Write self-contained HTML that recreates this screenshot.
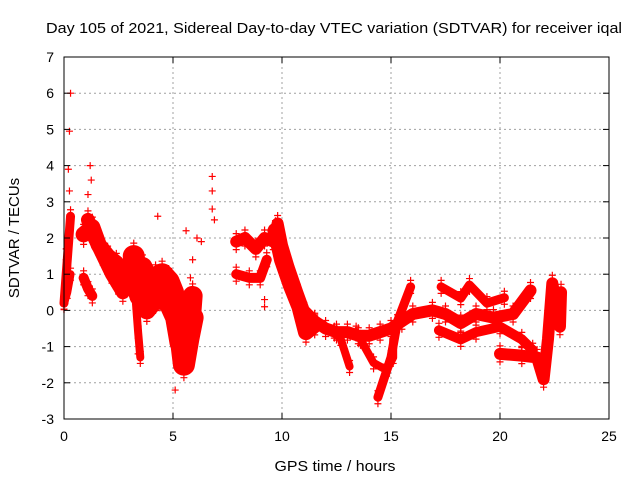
<!DOCTYPE html>
<html><head><meta charset="utf-8"><style>
body{margin:0;background:#fff}
svg{display:block;font-family:"Liberation Sans",sans-serif}
</style></head><body>
<svg id="chart" width="640" height="480" viewBox="0 0 640 480">
<rect width="640" height="480" fill="#fff"/>
<text x="334" y="33" font-size="15" text-anchor="middle" textLength="576" lengthAdjust="spacingAndGlyphs">Day 105 of 2021, Sidereal Day-to-day VTEC variation (SDTVAR) for receiver iqal</text>
<g id="grid"></g>
<g id="data"></g>
<rect x="64" y="57" width="545" height="362" fill="none" stroke="#000" stroke-width="1"/>
<g id="ticks"></g>
<text x="335" y="471" font-size="15" text-anchor="middle" textLength="121" lengthAdjust="spacingAndGlyphs">GPS time / hours</text>
<text transform="translate(19,238) rotate(-90)" font-size="15" text-anchor="middle">SDTVAR / TECUs</text>
</svg>
<script>
const xTicks=[0,5,10,15,20,25];
const yTicks=[-3,-2,-1,0,1,2,3,4,5,6,7];
// band traces: [hours, TECU]
const traceA=[[0,0.2],[0.1,1.0],[0.2,1.8],[0.3,2.6]];
const traceA2=[[0,0.2],[0.15,0.5],[0.3,1.0]];
const traceB=[[0.9,2.1],[1.3,2.3],[1.6,1.8],[2.0,1.5],[2.4,1.3],[2.8,1.0]];
const traceB2=[[0.9,0.9],[1.1,0.6],[1.3,0.4]];
const traceB3=[[1.1,2.5],[1.4,2.0],[1.8,1.5],[2.2,1.0],[2.5,0.7],[2.7,0.5]];
const traceC=[[3.2,1.5],[3.3,0.8],[3.5,0.4],[3.8,0.6],[4.2,0.9],[4.5,1.0],[4.8,0.8],[5.0,0.5],[5.2,-0.3],[5.4,-1.0],[5.5,-1.5],[5.7,-0.8],[5.9,-0.2]];
const traceC3=[[3.6,1.2],[4.0,0.7],[4.4,0.4],[4.8,0.2],[5.1,-0.2],[5.3,-0.9],[5.6,-1.2],[5.8,-0.4],[5.9,0.4]];
const traceC4=[[3.8,0.0],[4.2,0.3],[4.5,0.6],[4.9,0.3]];
const traceC2=[[3.3,0.2],[3.4,-0.6],[3.5,-1.3]];
const traceD1=[[7.9,1.0],[8.5,0.9],[9.0,0.9],[9.3,1.4]];
const traceD=[[7.9,1.9],[8.3,2.0],[8.8,1.7],[9.2,2.0],[9.6,1.9],[9.8,2.4],[10.0,1.8],[10.3,1.2],[10.7,0.5],[11.0,0.0],[11.5,-0.3],[12.0,-0.5],[12.5,-0.6],[13.0,-0.6],[13.5,-0.7],[14.0,-0.7],[14.5,-0.6],[15.0,-0.5],[15.5,-0.3],[16.0,-0.1],[16.9,0.0],[17.5,-0.1],[18.2,-0.35],[18.9,-0.1],[19.7,-0.2],[20.6,-0.1],[21.4,0.55]];
const traceD2=[[9.7,2.2],[10.0,1.4],[10.4,0.7],[10.8,0.1],[11.1,-0.6],[11.5,-0.4]];
const traceE=[[14.4,-2.4],[15.0,-1.3],[15.3,-0.3],[15.9,0.65]];
const traceF=[[17.3,0.65],[18.2,0.34],[18.6,0.7],[19.4,0.2],[20.2,0.35]];
const traceG=[[17.2,-0.55],[18.2,-0.8],[18.9,-0.6],[20.0,-0.45],[21.0,-0.8],[21.5,-1.1]];
const traceH=[[20.0,-1.2],[21.0,-1.25],[21.7,-1.3],[22.0,-1.9],[22.2,-0.8],[22.4,0.75],[22.75,-0.45],[22.8,0.5]];
const traceI=[[12.4,-0.6],[12.7,-0.8],[13.1,-1.55]];
const traceJ=[[13.4,-0.6],[13.6,-0.8],[14.2,-1.45],[14.8,-1.65],[15.1,-1.3],[15.1,-0.8]];
const traces=[traceA,traceA2,traceB,traceB2,traceB3,traceC,traceC3,traceC4,traceC2,traceD1,traceD,traceD2,traceE,traceF,traceG,traceH,traceI,traceJ];
const widths=[9,8,16,10,14,22,20,18,8,10,12,16,9,9,10,12,8,8];
const outX=[0.3,0.25,0.2,0.25,1.2,1.25,1.1,6.8,6.8,6.8,6.9,6.1,6.3,5.1,5.6,5.9,9.2,9.2,4.3,3.4,2.4,0.1,0.1,2.7,6.0,5.8];
const outY=[6.0,4.95,3.9,3.3,4.0,3.6,3.2,3.7,3.3,2.8,2.5,2.0,1.9,-2.2,2.2,1.4,0.3,0.1,2.6,-1.2,0.6,1.4,1.7,1.2,-0.6,0.9];
const X0=64,X1=609,Y0=419,Y1=57;
const sx=v=>X0+(v-0)/(25-0)*(X1-X0);
const sy=v=>Y0-(v+3)/(7+3)*(Y0-Y1);
const NS="http://www.w3.org/2000/svg";
const grid=document.getElementById('grid'),ticks=document.getElementById('ticks'),data=document.getElementById('data');
function mk(t,a,p){const e=document.createElementNS(NS,t);for(const k in a)e.setAttribute(k,a[k]);p.appendChild(e);return e;}
xTicks.forEach(v=>{
 const x=sx(v);
 if(v>0&&v<25){const g=mk('line',{x1:x,x2:x,y1:Y1,y2:Y0,stroke:'#a0a0a0','stroke-dasharray':'2,3'},grid);
 
 }
 mk('line',{x1:x,x2:x,y1:Y0,y2:Y0-6,stroke:'#000'},ticks);mk('line',{x1:x,x2:x,y1:Y1,y2:Y1+6,stroke:'#000'},ticks);
 const t=mk('text',{x:x,y:Y0+22,'font-size':14,'text-anchor':'middle'},ticks);t.textContent=v;
 
 
});
yTicks.forEach(v=>{
 const y=sy(v);
 if(v>-3&&v<7){const g=mk('line',{x1:X0,x2:X1,y1:y,y2:y,stroke:'#a0a0a0','stroke-dasharray':'2,3'},grid);
 
 }
 mk('line',{x1:X0,x2:X0+6,y1:y,y2:y,stroke:'#000'},ticks);mk('line',{x1:X1,x2:X1-6,y1:y,y2:y,stroke:'#000'},ticks);
 const t=mk('text',{x:X0-10,y:y+5,'font-size':14,'text-anchor':'end'},ticks);t.textContent=v;
 
 
});
function plus(x,y){mk('path',{d:`M${x-3.5},${y}h7M${x},${y-3.5}v7`,stroke:'#f00','stroke-width':1.2,fill:'none'},data);}
traces.forEach((tr,i)=>{
 const p=mk('polyline',{points:tr.map(d=>sx(d[0])+','+sy(d[1])).join(' '),fill:'none',stroke:'#f00','stroke-width':widths[i],'stroke-linejoin':'round','stroke-linecap':'round'},data);
 
 
 tr.forEach(d=>plus(sx(d[0]),sy(d[1])-widths[i]/2-2));
 tr.forEach(d=>plus(sx(d[0]),sy(d[1])+widths[i]/2+2));
});
outX.forEach((v,i)=>plus(sx(v),sy(outY[i])));
</script>
</body></html>
